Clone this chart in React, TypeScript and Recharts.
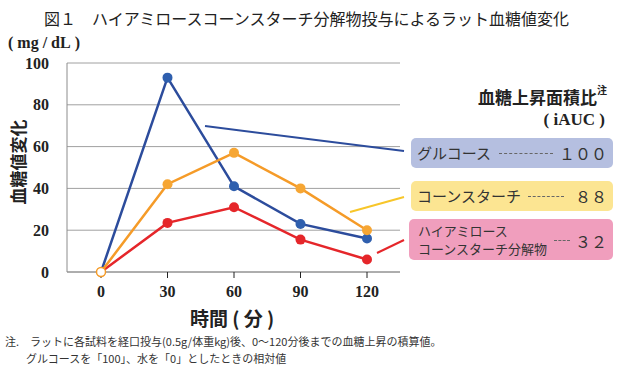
import React from "react";
import { LineChart, Line, XAxis, YAxis, CartesianGrid } from "recharts";

const times = ["0", "30", "60", "90", "120"];
const glucose = [0, 93, 41, 23, 16];
const cornStarch = [0, 42, 57, 40, 20];
const hacsDigest = [0, 23.5, 31, 15.5, 6];
const yTicks = [0, 20, 40, 60, 80, 100];

const data = times.map((t, i) => ({
  time: t,
  glucose: glucose[i],
  corn: cornStarch[i],
  hacs: hacsDigest[i],
}));

const SERIF = "'Liberation Serif', 'DejaVu Serif', serif";
const JP = "'Noto Sans CJK JP', 'Noto Sans', sans-serif";

const BLUE = "#2c4c9c";
const BLUE_DOT = "#2f5fae";
const ORANGE = "#f59b28";
const ORANGE_DOT = "#f6a634";
const RED = "#e5262a";

const makeDot = (color: string, hollowFirst: boolean) => (props: any) => {
  const { cx, cy, index } = props;
  if (index === 0) {
    if (!hollowFirst) return <g key={`d${index}`} />;
    return <circle key={`d${index}`} cx={cx} cy={cy} r={4.5} fill="#fff" stroke={ORANGE} strokeWidth={1.5} />;
  }
  return <circle key={`d${index}`} cx={cx} cy={cy} r={5} fill={color} stroke="none" />;
};

const legendBox = (bg: string): React.CSSProperties => ({
  position: "absolute",
  left: 411,
  width: 202,
  background: bg,
  borderRadius: 5,
  fontFamily: JP,
  color: "#333",
});

const leader = "1px dashed #666";

export default function App() {
  return (
    <div style={{ position: "absolute", left: 0, top: 0, width: 619, height: 368, background: "#fff", overflow: "hidden" }}>
      <div style={{ position: "absolute", left: 44, top: 6, fontFamily: JP, fontSize: 16, color: "#222", whiteSpace: "nowrap" }}>
        図１　ハイアミロースコーンスターチ分解物投与によるラット血糖値変化
      </div>
      <div style={{ position: "absolute", left: 8, top: 34, fontFamily: SERIF, fontWeight: "bold", fontSize: 16, color: "#222", whiteSpace: "nowrap" }}>
        (&nbsp;mg / dL&nbsp;)
      </div>
      <div
        style={{
          position: "absolute",
          left: 17,
          top: 162,
          transform: "translate(-50%, -50%) rotate(-90deg)",
          fontFamily: JP,
          fontWeight: "bold",
          fontSize: 17,
          color: "#222",
          whiteSpace: "nowrap",
        }}
      >
        血糖値変化
      </div>

      <LineChart width={619} height={368} data={data} margin={{ top: 63, right: 219, left: 37, bottom: 66 }}>
        <CartesianGrid vertical={false} stroke="#a0a0a0" strokeWidth={1} />
        <XAxis
          dataKey="time"
          padding={{ left: 34, right: 33 }}
          height={30}
          stroke="#8c8c8c"
          tickSize={6}
          tickMargin={8}
          tickLine={{ stroke: "#222" }}
          tick={{ fill: "#222", fontFamily: SERIF, fontWeight: "bold", fontSize: 16 }}
        />
        <YAxis
          domain={[0, 100]}
          ticks={yTicks}
          width={30}
          stroke="#8c8c8c"
          tickLine={false}
          tickMargin={12}
          tick={{ fill: "#222", fontFamily: SERIF, fontWeight: "bold", fontSize: 16 }}
        />
        <YAxis yAxisId="r" orientation="right" domain={[0, 100]} ticks={[]} tick={false} width={0} stroke="#8c8c8c" tickLine={false} />
        <Line dataKey="hacs" stroke={RED} strokeWidth={2.5} dot={makeDot(RED, false)} isAnimationActive={false} />
        <Line dataKey="glucose" stroke={BLUE} strokeWidth={2.5} dot={makeDot(BLUE_DOT, false)} isAnimationActive={false} />
        <Line dataKey="corn" stroke={ORANGE} strokeWidth={2.5} dot={makeDot(ORANGE_DOT, true)} isAnimationActive={false} />
      </LineChart>

      <div style={{ position: "absolute", left: 190, top: 304, fontFamily: JP, fontWeight: "bold", fontSize: 19, color: "#222", whiteSpace: "nowrap" }}>
        時間 ( 分 )
      </div>

      <svg width={619} height={368} style={{ position: "absolute", left: 0, top: 0, pointerEvents: "none" }}>
        <line x1={205} y1={126} x2={404} y2={151} stroke={BLUE} strokeWidth={2} />
        <line x1={350} y1={212} x2={404} y2={197} stroke="#f7c62a" strokeWidth={2} />
        <line x1={377} y1={253} x2={404} y2={240} stroke={RED} strokeWidth={2} />
      </svg>

      <div style={{ position: "absolute", right: 12, top: 84, fontFamily: JP, fontWeight: "bold", fontSize: 17, color: "#222", whiteSpace: "nowrap" }}>
        血糖上昇面積比<span style={{ fontSize: 10, verticalAlign: "top", position: "relative", top: -2 }}>注</span>
      </div>
      <div style={{ position: "absolute", right: 14, top: 110, fontFamily: SERIF, fontWeight: "bold", fontSize: 17, color: "#222", whiteSpace: "nowrap" }}>
        (&nbsp;iAUC&nbsp;)
      </div>

      <div style={{ ...legendBox("#b5bfe0"), top: 138, height: 30 }}>
        <span style={{ position: "absolute", left: 6, top: 4, fontSize: 15 }}>グルコース</span>
        <span style={{ position: "absolute", left: 88, right: 60, top: 15, borderTop: leader }} />
        <span style={{ position: "absolute", right: 6, top: 3, fontSize: 16 }}>１００</span>
      </div>
      <div style={{ ...legendBox("#fce592"), top: 181, height: 30 }}>
        <span style={{ position: "absolute", left: 6, top: 4, fontSize: 15 }}>コーンスターチ</span>
        <span style={{ position: "absolute", left: 117, right: 49, top: 15, borderTop: leader }} />
        <span style={{ position: "absolute", right: 6, top: 3, fontSize: 16 }}>８８</span>
      </div>
      <div style={{ ...legendBox("#f09ebd"), top: 219, height: 41, left: 409, width: 204 }}>
        <span style={{ position: "absolute", left: 9, top: 3, fontSize: 13, lineHeight: "18px", whiteSpace: "nowrap" }}>
          ハイアミロース
          <br />
          コーンスターチ分解物
        </span>
        <span style={{ position: "absolute", left: 145, right: 43, top: 21, borderTop: leader }} />
        <span style={{ position: "absolute", right: 6, top: 10, fontSize: 16 }}>３２</span>
      </div>

      <div style={{ position: "absolute", left: 5, top: 333, fontFamily: JP, fontSize: 11, color: "#333", whiteSpace: "nowrap", lineHeight: "17px" }}>
        注.　ラットに各試料を経口投与(0.5g/体重kg)後、0～120分後までの血糖上昇の積算値。
        <br />
        <span style={{ paddingLeft: 21 }}>グルコースを「100」、水を「0」としたときの相対値</span>
      </div>
    </div>
  );
}
